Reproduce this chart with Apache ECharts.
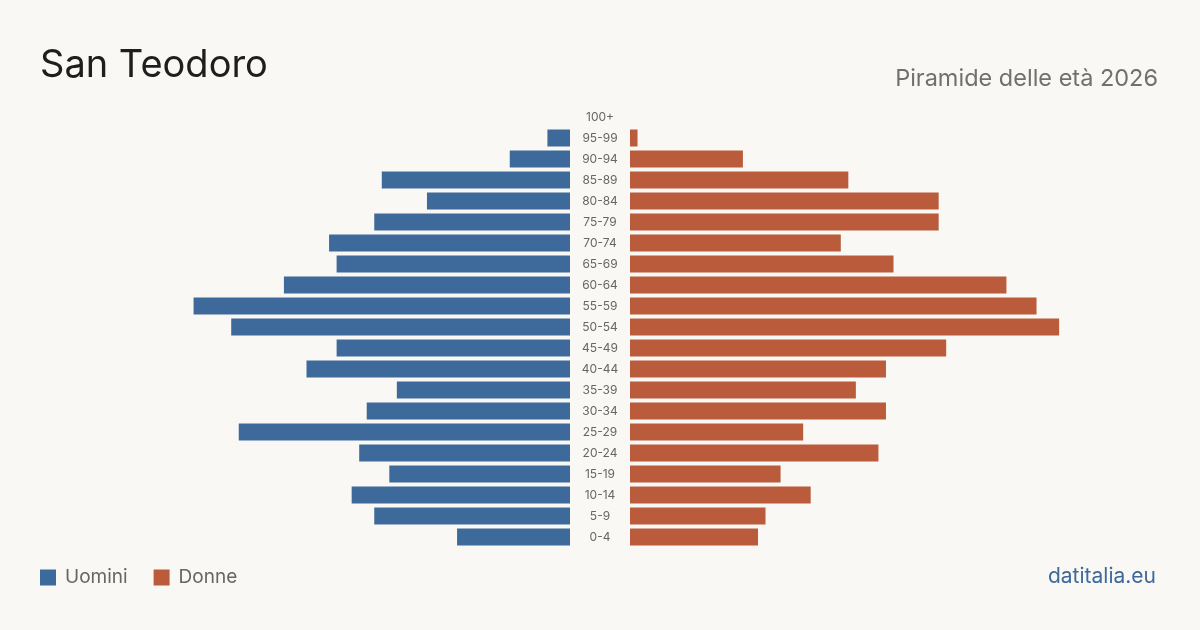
<!DOCTYPE html>
<html>
<head>
	<meta charset="UTF-8">
	<title>San Teodoro - Piramide delle età 2026</title>
	<script src="https://cdn.jsdelivr.net/npm/echarts@6/dist/echarts.min.js"></script>
	<style>
		html, body { margin: 0; padding: 0; background: #f9f8f4; }
		#main { width: 1200px; height: 630px; }
	</style>
</head>
<body>
	<div id="main"></div>
	<script>

	// classi di età, dal basso verso l'alto
	var ageGroups = ['0-4', '5-9', '10-14', '15-19', '20-24', '25-29', '30-34', '35-39', '40-44', '45-49',
		'50-54', '55-59', '60-64', '65-69', '70-74', '75-79', '80-84', '85-89', '90-94', '95-99', '100+'];
	var uomini = [15, 26, 29, 24, 28, 44, 27, 23, 35, 31, 45, 50, 38, 31, 32, 26, 19, 25, 8, 3, 0];
	var donne  = [17, 18, 24, 20, 33, 23, 34, 30, 34, 42, 57, 54, 50, 35, 28, 41, 41, 29, 15, 1, 0];

	var blue = '#3d6a9b',
		orange = '#ba5c3c',
		font = 'Inter';

	var axisMax = 70;
	var gridTop = 106.5, gridHeight = 441;

	var myChart = echarts.init(document.getElementById('main'));

	var option = {
		backgroundColor: '#f9f8f4',
		animation: false,
		textStyle: { fontFamily: font },
		title: [{
			text: 'San Teodoro',
			left: 35,
			top: 42,
			textStyle: { fontFamily: font, fontSize: 38, fontWeight: 'normal', color: '#1e1e1e' }
		}, {
			text: 'Piramide delle età 2026',
			right: 37,
			top: 62,
			textStyle: { fontFamily: font, fontSize: 23.5, fontWeight: 'normal', color: '#707070' }
		}, {
			text: 'datitalia.eu',
			right: 39,
			top: 561,
			textStyle: { fontFamily: font, fontSize: 21, fontWeight: 'normal', color: '#3d6a9b' }
		}],
		legend: {
			left: 40,
			top: 568,
			padding: 0,
			itemWidth: 16,
			itemHeight: 16,
			itemGap: 26,
			icon: 'rect',
			textStyle: { fontFamily: font, fontSize: 19, color: '#666', padding: [0, 0, 0, 4] },
			data: ['Uomini', 'Donne']
		},
		grid: [
			{ left: 43, width: 527, top: gridTop, height: gridHeight },
			{ left: 630, width: 527, top: gridTop, height: gridHeight }
		],
		xAxis: [
			{ gridIndex: 0, type: 'value', min: 0, max: axisMax, inverse: true, show: false },
			{ gridIndex: 1, type: 'value', min: 0, max: axisMax, show: false }
		],
		yAxis: [{
			gridIndex: 0,
			type: 'category',
			data: ageGroups,
			position: 'right',
			axisLine: { show: false },
			axisTick: { show: false },
			axisLabel: {
				margin: 30,
				align: 'center',
				fontFamily: font,
				fontSize: 12,
				color: '#666',
				padding: [2, 0, 0, 0]
			}
		}, {
			gridIndex: 1,
			type: 'category',
			data: ageGroups,
			show: false
		}],
		series: [{
			name: 'Uomini',
			type: 'bar',
			xAxisIndex: 0,
			yAxisIndex: 0,
			data: uomini,
			barWidth: 17,
			itemStyle: { color: blue }
		}, {
			name: 'Donne',
			type: 'bar',
			xAxisIndex: 1,
			yAxisIndex: 1,
			data: donne,
			barWidth: 17,
			itemStyle: { color: orange }
		}]
	};

	myChart.setOption(option);

	</script>
</body>
</html>
